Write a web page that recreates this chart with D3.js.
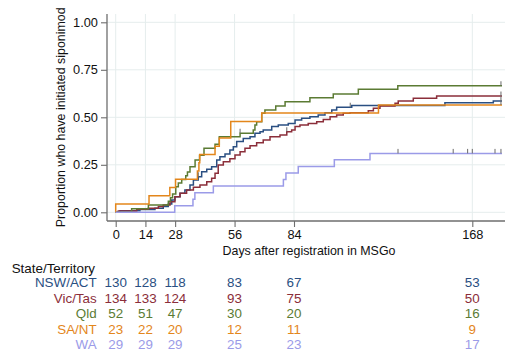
<!DOCTYPE html>
<html>
<head>
<meta charset="utf-8">
<script src="https://cdn.jsdelivr.net/npm/d3@7"></script>
<style>
  html, body { margin: 0; padding: 0; background: #fff; }
  svg { display: block; font-family: "Liberation Sans", Arial, sans-serif; }
</style>
</head>
<body>
<svg id="chart" width="505" height="354"></svg>
<script>
// ---------- data ----------
const groups = ["NSW/ACT", "Vic/Tas", "Qld", "SA/NT", "WA"];
const groupColors = ["#2a4f82", "#8b2e3a", "#5b7b33", "#e3861b", "#9b9be8"];

const xTickValues = [0, 14, 28, 56, 84, 168];
const yTickValues = [0, 0.25, 0.5, 0.75, 1];
const yTickLabels = ["0.00", "0.25", "0.50", "0.75", "1.00"];
const lastDay = 182;

// step points: [day, cumulative proportion initiated]
const nswSteps = [[2.0,0.008],[11.4,0.015],[18.5,0.021],[22.4,0.03],[24.8,0.044],[26.4,0.065],[27.9,0.082],
  [30.3,0.1],[32.6,0.117],[35.0,0.144],[36.6,0.17],[38.9,0.187],[40.5,0.214],[42.9,0.226],[45.2,0.24],
  [47.6,0.275],[49.1,0.293],[51.5,0.307],[53.8,0.328],[55.4,0.345],[57.0,0.372],[60.1,0.389],[63.3,0.398],
  [65.6,0.416],[68.0,0.424],[69.5,0.433],[73.5,0.451],[76.6,0.459],[81.3,0.468],[84.5,0.486],[87.6,0.495],
  [91.5,0.503],[95.4,0.512],[98.6,0.524],[101.8,0.538],[104.1,0.553],[111.2,0.562],[155.1,0.577],[177.9,0.586]];
const vicSteps = [[1.2,0.007],[9.9,0.016],[15.4,0.021],[20.1,0.03],[22.4,0.038],[25.6,0.056],[27.9,0.082],
  [30.3,0.1],[33.4,0.117],[36.6,0.132],[39.7,0.144],[42.9,0.161],[45.2,0.179],[46.8,0.205],[48.3,0.249],
  [50.7,0.266],[53.8,0.282],[56.2,0.302],[58.6,0.319],[60.9,0.337],[63.3,0.35],[66.4,0.366],[69.5,0.381],
  [72.7,0.398],[77.4,0.407],[80.6,0.424],[82.9,0.433],[84.5,0.451],[86.8,0.459],[90.7,0.468],[94.7,0.477],
  [97.8,0.489],[101.0,0.503],[104.1,0.512],[107.2,0.521],[110.4,0.524],[119.0,0.535],[121.4,0.547],
  [124.5,0.559],[131.6,0.574],[133.1,0.586],[140.2,0.6],[151.2,0.612]];
const qldSteps = [[7.5,0.019],[15.4,0.038],[24.8,0.058],[25.8,0.077],[26.8,0.096],[28.3,0.135],[29.5,0.154],
  [31.1,0.173],[33.0,0.192],[33.8,0.212],[35.0,0.24],[37.4,0.275],[39.5,0.30],[41.6,0.337],[46.8,0.358],
  [48.8,0.398],[58.6,0.416],[64.8,0.433],[65.6,0.459],[66.4,0.477],[68.8,0.521],[70.3,0.538],[75.4,0.559],
  [79.8,0.582],[91.5,0.603],[102.5,0.623],[114.3,0.647],[132.9,0.666]];
const saSteps = [[0,0.0435],[15.7,0.087],[25.5,0.130],[28.2,0.174],[38.5,0.217],[39.2,0.261],[39.6,0.304],
  [46.8,0.348],[48.8,0.391],[54.2,0.478],[68.8,0.522],[123.8,0.565]];
const waSteps = [[27.8,0.0345],[36.4,0.069],[37.3,0.103],[46.0,0.138],[79.0,0.172],[80.2,0.207],[86.0,0.241],
  [103.0,0.276],[119.8,0.310]];

// censoring marks (days)
const nswCensor = [38.9, 110.5, 181.5];
const vicCensor = [80.6, 181.5];
const qldCensor = [58.6, 181.5];
const saCensor = [181.5];
const waCensor = [133, 159, 165.8, 168, 178.7, 181.5];

// number at risk
const riskNSW = [130, 128, 118, 83, 67, 53];
const riskVic = [134, 133, 124, 93, 75, 50];
const riskQld = [52, 51, 47, 30, 20, 16];
const riskSA = [23, 22, 20, 12, 11, 9];
const riskWA = [29, 29, 29, 25, 23, 17];

const allSteps = [nswSteps, vicSteps, qldSteps, saSteps, waSteps];
const allCensor = [nswCensor, vicCensor, qldCensor, saCensor, waCensor];
const allRisk = [riskNSW, riskVic, riskQld, riskSA, riskWA];

// ---------- drawing ----------
const svg = d3.select("#chart");
const plot = { left: 107, right: 505, top: 14, bottom: 221 };

const x = d3.scaleLinear().domain([0, 168]).range([115.7, 472.3]);
const y = d3.scaleLinear().domain([0, 1]).range([212.3, 22.3]);

// gridlines
const grid = svg.append("g").attr("stroke", "#e5eded").attr("stroke-width", 1);
grid.selectAll("line.h").data(yTickValues).join("line")
  .attr("x1", plot.left).attr("x2", plot.right)
  .attr("y1", d => y(d)).attr("y2", d => y(d));
grid.selectAll("line.v").data(xTickValues).join("line")
  .attr("x1", d => x(d)).attr("x2", d => x(d))
  .attr("y1", plot.top).attr("y2", plot.bottom);

// axes
const yAxis = d3.axisLeft(y).tickValues(yTickValues).tickFormat((d, i) => yTickLabels[i]).tickSize(6).tickPadding(3).tickSizeOuter(0);
const gy = svg.append("g").attr("transform", `translate(${plot.left},0)`).call(yAxis);
gy.select(".domain").attr("d", `M0,${plot.top}V${plot.bottom}`);
const xAxis = d3.axisBottom(x).tickValues(xTickValues).tickSize(6).tickPadding(3).tickSizeOuter(0);
const gx = svg.append("g").attr("transform", `translate(0,${plot.bottom})`).call(xAxis);
gx.select(".domain").attr("d", `M${plot.left},0H${plot.right}`);
[gx, gy].forEach(g => {
  g.select(".domain").attr("stroke", "#6e6e6e").attr("stroke-width", 1.3);
  g.selectAll(".tick line").attr("stroke", "#6e6e6e").attr("stroke-width", 1.1);
  g.selectAll(".tick text").attr("fill", "#111").attr("font-size", 12.8)
    .attr("font-family", "'Liberation Sans', Arial, sans-serif");
});

// titles
svg.append("text").attr("transform", `translate(65,${y(0.5)}) rotate(-90)`)
  .attr("text-anchor", "middle").attr("font-size", 12.4).attr("fill", "#111")
  .text("Proportion who have initiated siponimod");
svg.append("text").attr("x", 309).attr("y", 254.5)
  .attr("text-anchor", "middle").attr("font-size", 12.4).attr("fill", "#111")
  .text("Days after registration in MSGo");

// curves
function valueAt(steps, day) {
  let v = 0;
  steps.forEach(s => { if (s[0] <= day) v = s[1]; });
  return v;
}
const line = d3.line().x(d => x(d[0])).y(d => y(d[1])).curve(d3.curveStepAfter);
const curves = svg.append("g").attr("fill", "none");
allSteps.forEach((steps, i) => {
  const pts = [[0, 0], ...steps, [lastDay, steps[steps.length - 1][1]]];
  curves.append("path").attr("d", line(pts))
    .attr("stroke", groupColors[i]).attr("stroke-width", 1.5);
});
// censor ticks
const ticksG = svg.append("g").attr("stroke", "#6a6a6a").attr("stroke-width", 1);
allCensor.forEach((cs, i) => {
  cs.forEach(c => {
    const yy = y(valueAt(allSteps[i], c));
    ticksG.append("line").attr("x1", x(c)).attr("x2", x(c)).attr("y1", yy).attr("y2", yy - 4.5);
  });
});

// risk table
svg.append("text").attr("x", 11.7).attr("y", 272.5).attr("font-size", 13.4).attr("fill", "#111")
  .text("State/Territory");
const rowY = [282.8, 298.5, 313.7, 329.2, 344.7];
groups.forEach((g, i) => {
  const row = svg.append("g").attr("fill", groupColors[i]).attr("font-size", 13.4);
  row.append("text").attr("x", 96.7).attr("y", rowY[i]).attr("dy", "0.35em")
    .attr("text-anchor", "end").text(g);
  row.selectAll("text.n").data(allRisk[i]).join("text").attr("class", "n")
    .attr("x", (d, j) => x(xTickValues[j])).attr("y", rowY[i]).attr("dy", "0.35em")
    .attr("text-anchor", "middle").text(d => d);
});
</script>
</body>
</html>
